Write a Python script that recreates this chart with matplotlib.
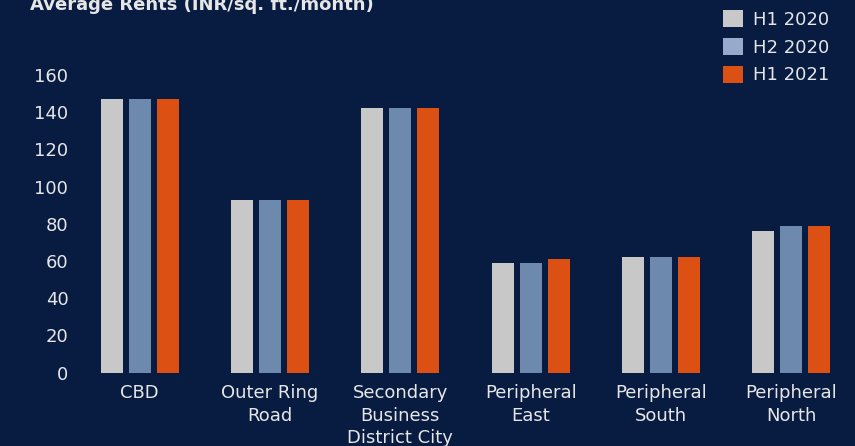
import matplotlib
matplotlib.use("Agg")
import matplotlib.pyplot as plt
from matplotlib.patches import Patch
import numpy as np

categories = ["CBD", "Outer Ring\nRoad", "Secondary\nBusiness\nDistrict City",
              "Peripheral\nEast", "Peripheral\nSouth", "Peripheral\nNorth"]
series_names = ["H1 2020", "H2 2020", "H1 2021"]
h1_2020 = [147, 93, 142, 59, 62, 76]
h2_2020 = [147, 93, 142, 59, 62, 79]
h1_2021 = [147, 93, 142, 61, 62, 79]
yticks = [0, 20, 40, 60, 80, 100, 120, 140, 160]

bg = "#081C42"
bar_colors = ["#C8C8C8", "#6D89AE", "#DD5013"]
legend_colors = ["#C8C8C8", "#98AACB", "#DD5013"]
txt = "#E6E6E6"

W, H = 855, 446
fig = plt.figure(figsize=(W / 100, H / 100), dpi=100, facecolor=bg)
left, right, bottom, top = 85, 850, 372.5, 75
ax = fig.add_axes([left / W, 1 - bottom / H, (right - left) / W, (bottom - top) / H])
ax.set_facecolor(bg)

x = np.arange(len(categories))
bw = 0.169
off = 0.215
for i, vals in enumerate([h1_2020, h2_2020, h1_2021]):
    ax.bar(x + (i - 1) * off, vals, width=bw, color=bar_colors[i], zorder=2)

ax.set_xlim(-0.42, 5.45)
ax.set_ylim(0, 160)
ax.set_yticks(yticks)
ax.set_yticklabels([str(v) for v in yticks])
ax.set_xticks(x)
ax.set_xticklabels(categories, linespacing=1.35)
ax.tick_params(axis="both", length=0, colors=txt, labelsize=13)
ax.tick_params(axis="y", pad=12)
ax.tick_params(axis="x", pad=8)
for s in ax.spines.values():
    s.set_visible(False)

fig.text(30 / W, 1 - 10 / H, "Average Rents (INR/sq. ft./month)", color=txt,
         fontsize=13, fontweight="bold", va="baseline", ha="left")

handles = [Patch(facecolor=c, edgecolor="none", label=n) for c, n in zip(legend_colors, series_names)]
fig.legend(handles=handles, loc="upper left", bbox_to_anchor=(723 / W, 1 - 10 / H),
           frameon=False, fontsize=13, labelcolor=txt, handlelength=1.1, handleheight=1.1,
           handletextpad=0.55, labelspacing=0.5, borderpad=0, borderaxespad=0)

fig.savefig("out.png", dpi=100, facecolor=bg)
